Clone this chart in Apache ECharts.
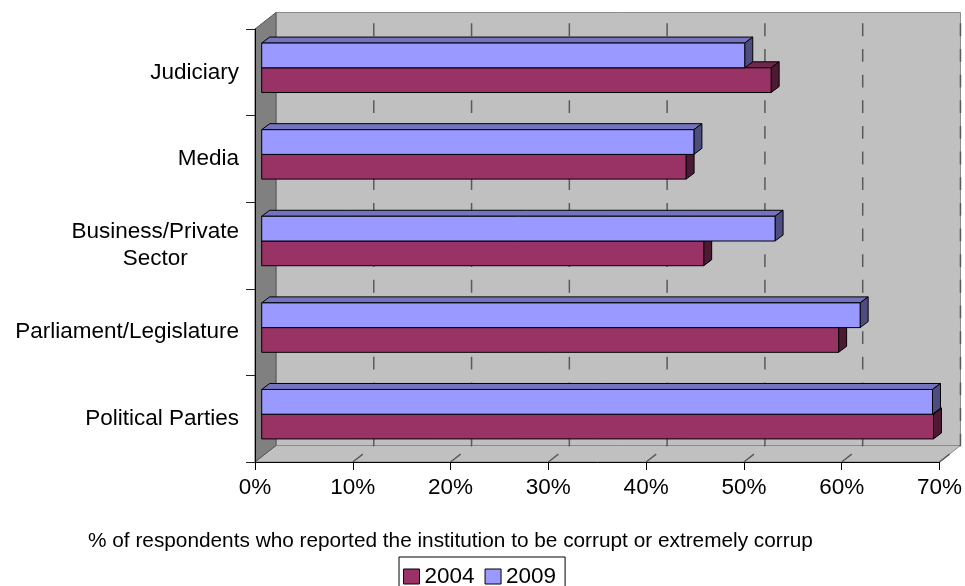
<!DOCTYPE html>
<html>
<head>
<meta charset="utf-8">
<script src="https://cdn.jsdelivr.net/npm/echarts@6/dist/echarts.min.js"></script>
<style>
  html, body { margin: 0; padding: 0; background: #fff; }
  #chart { width: 965px; height: 586px; }
</style>
</head>
<body>
<div id="chart"></div>
<script>
// Institutions, listed top to bottom
const categories = [
  'Judiciary',
  'Media',
  'Business/Private\nSector',
  'Parliament/Legislature',
  'Political Parties'
];
// % of respondents rating the institution corrupt or extremely corrupt
const values2004 = [52.1, 43.4, 45.2, 59.0, 68.7];
const values2009 = [49.4, 44.2, 52.5, 61.2, 68.6];
const seriesNames = ['2004', '2009'];
const tickValues = [0, 10, 20, 30, 40, 50, 60, 70];
const axisTitle = '% of respondents who reported the institution to be corrupt or extremely corrupt';

const FONT = 'Liberation Sans, Arial, sans-serif';

// Pseudo-3D geometry (pixels)
const DEPTH = [21, -16.5];      // full depth of the plot box (floor / side wall)
const BAR_FRONT = [6.7, -4.5];  // offset of the bar front faces from the front plane
const BAR_DEPTH = [8, -6];      // depth of each bar
const BAR_FRAC = 0.2855;        // bar thickness as a fraction of the category band

const palette = {
  '2004': { front: '#993366', top: '#73264d', end: '#4d1a33' },
  '2009': { front: '#9999ff', top: '#7373bf', end: '#4d4d80' }
};

const chart = echarts.init(document.getElementById('chart'), null, { renderer: 'canvas' });

// Back wall, side wall, floor and dashed gridlines
function renderFrame(params, api) {
  const cs = params.coordSys;
  const dx = DEPTH[0], dy = DEPTH[1];
  const L = cs.x, T = cs.y, R = cs.x + cs.width, B = cs.y + cs.height;
  const children = [
    { type: 'rect', shape: { x: L + dx, y: T + dy, width: cs.width, height: cs.height },
      style: { fill: '#c0c0c0', stroke: '#8a8a8a', lineWidth: 1 } },
    { type: 'polygon', shape: { points: [[L, B], [L + dx, B + dy], [R + dx, B + dy], [R, B]] },
      style: { fill: '#c0c0c0', stroke: '#8a8a8a', lineWidth: 1 } },
    { type: 'polygon', shape: { points: [[L, T], [L + dx, T + dy], [L + dx, B + dy], [L, B]] },
      style: { fill: '#808080', stroke: '#555', lineWidth: 1 } }
  ];
  tickValues.forEach(function (t) {
    if (t === 0) return;
    const x = api.coord([t, 0])[0];
    children.push({
      type: 'polyline',
      shape: { points: [[x, B], [x + dx, B + dy], [x + dx, T + dy]] },
      style: { stroke: '#5a5a5a', lineWidth: 1.5, fill: null, lineDash: [12.8, 12.85] }
    });
  });
  return { type: 'group', children: children };
}

// One 3D bar: front face, top face and end face
function makeBarRenderer(name, above) {
  const c = palette[name];
  return function (params, api) {
    const v = api.value(0), ci = api.value(1);
    const p = api.coord([v, ci]);
    const p0 = api.coord([0, ci]);
    const h = api.size([0, 1])[1] * BAR_FRAC;
    const yTop = above ? p[1] - h : p[1];
    const x0 = p0[0] + BAR_FRONT[0], x1 = p[0] + BAR_FRONT[0];
    const t = yTop + BAR_FRONT[1], b = t + h;
    const bx = BAR_DEPTH[0], by = BAR_DEPTH[1];
    const edge = { stroke: '#000', lineWidth: 1 };
    return {
      type: 'group',
      children: [
        { type: 'polygon', shape: { points: [[x0, t], [x1, t], [x1 + bx, t + by], [x0 + bx, t + by]] },
          style: Object.assign({ fill: c.top }, edge) },
        { type: 'polygon', shape: { points: [[x1, t], [x1 + bx, t + by], [x1 + bx, b + by], [x1, b]] },
          style: Object.assign({ fill: c.end }, edge) },
        { type: 'rect', shape: { x: x0, y: t, width: x1 - x0, height: h },
          style: Object.assign({ fill: c.front }, edge) }
      ]
    };
  };
}

const option = {
  animation: false,
  backgroundColor: '#ffffff',
  textStyle: { fontFamily: FONT },
  grid: { left: 255, right: 25, top: 29, bottom: 124, containLabel: false },
  xAxis: {
    type: 'value',
    min: 0, max: 70, interval: 10,
    z: 10,
    axisLine: { show: true, lineStyle: { color: '#000', width: 1 } },
    axisTick: { show: true, length: 8, lineStyle: { color: '#000' } },
    splitLine: { show: false },
    axisLabel: {
      formatter: '{value}%', color: '#000', fontSize: 22.5, fontFamily: FONT, margin: 14,
      showMinLabel: true, showMaxLabel: true
    }
  },
  yAxis: {
    type: 'category',
    data: categories,
    inverse: true,
    z: 10,
    axisLine: { show: true, lineStyle: { color: '#000', width: 1 } },
    axisTick: { show: true, length: 9, lineStyle: { color: '#222' } },
    splitLine: { show: false },
    axisLabel: {
      margin: 16,
      color: '#000',
      formatter: function (val) {
        return val.split('\n').map(function (s) { return '{c|' + s + '}'; }).join('\n');
      },
      rich: { c: { align: 'center', fontSize: 22.5, lineHeight: 27, fontFamily: FONT, color: '#000' } }
    }
  },
  legend: {
    data: seriesNames,
    left: 399, top: 557,
    orient: 'horizontal',
    icon: 'rect',
    itemWidth: 16, itemHeight: 15, itemGap: 10,
    padding: [8, 9, 8, 4],
    borderColor: '#000', borderWidth: 1,
    itemStyle: { borderColor: '#000', borderWidth: 1 },
    textStyle: { fontSize: 22.5, color: '#000', fontFamily: FONT },
    selectedMode: false
  },
  graphic: [{
    type: 'text',
    left: 88, top: 531,
    style: {
      text: axisTitle, fill: '#000', fontSize: 20.8, fontFamily: FONT,
      width: 727, overflow: 'truncate', ellipsis: ''
    }
  }],
  series: [
    {
      type: 'custom', name: 'frame', z: 1, silent: true,
      renderItem: renderFrame,
      data: [[0, 0]],
      encode: { x: 0, y: 1 }
    },
    {
      type: 'custom', name: seriesNames[0], z: 2,
      itemStyle: { color: palette['2004'].front },
      renderItem: makeBarRenderer('2004', false),
      data: values2004.map(function (v, i) { return [v, i]; }),
      encode: { x: 0, y: 1 }
    },
    {
      type: 'custom', name: seriesNames[1], z: 2,
      itemStyle: { color: palette['2009'].front },
      renderItem: makeBarRenderer('2009', true),
      data: values2009.map(function (v, i) { return [v, i]; }),
      encode: { x: 0, y: 1 }
    }
  ]
};

chart.setOption(option);
</script>
</body>
</html>
